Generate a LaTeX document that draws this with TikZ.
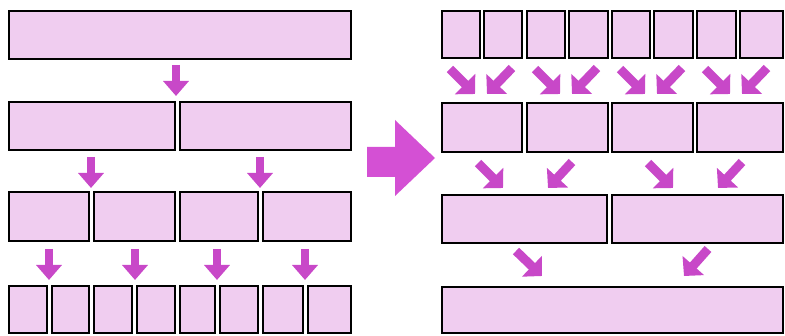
\documentclass[tikz,border=0pt]{standalone}
\usetikzlibrary{arrows.meta,fit}
\definecolor{cellfill}{RGB}{240,205,240}
\definecolor{arrowc}{RGB}{200,72,200}
\definecolor{bigarrowc}{RGB}{212,80,212}
\tikzset{
  cell/.style={draw=black, line width=2pt, fill=cellfill, inner sep=0pt, outer sep=0pt},
  arr/.style={draw=arrowc, line width=8.5pt, -{Triangle[width=25pt,length=15pt]}},
  darr/.style={draw=arrowc, line width=9pt, -{Triangle[width=28pt,length=14pt]}},
}
\newcommand\cellbox[5]{\node[cell, fit={(#2,#3) (#4,#5)}] (#1) {};}
\begin{document}
\begin{tikzpicture}[x=1pt,y=-1pt]
\useasboundingbox (0,0) rectangle (785,336);
% left side
\cellbox{L1}{9}{11}{351}{59}
\cellbox{L2a}{9}{102}{175}{150}
\cellbox{L2b}{180}{102}{351}{150}
\cellbox{L3a}{9}{192}{89}{241}
\cellbox{L3b}{94}{192}{175}{241}
\cellbox{L3c}{180}{192}{258}{241}
\cellbox{L3d}{263}{192}{351}{241}
\cellbox{L4a}{9}{286}{47}{333}
\cellbox{L4b}{52}{286}{89}{333}
\cellbox{L4c}{94}{286}{132}{333}
\cellbox{L4d}{137}{286}{175}{333}
\cellbox{L4e}{180}{286}{215}{333}
\cellbox{L4f}{220}{286}{258}{333}
\cellbox{L4g}{263}{286}{303}{333}
\cellbox{L4h}{308}{286}{351}{333}
\draw[arr] (176,65) -- (176,96);
\draw[arr] (91,157) -- (91,188);
\draw[arr] (260,157) -- (260,188);
\draw[arr] (49,249) -- (49,280);
\draw[arr] (135,249) -- (135,280);
\draw[arr] (217,249) -- (217,280);
\draw[arr] (305,249) -- (305,280);
% big arrow
\fill[bigarrowc] (367,147) -- (395,147) -- (395,120) -- (435,158) -- (395,196) -- (395,177) -- (367,177) -- cycle;
% right side
\cellbox{R1a}{442}{11}{480}{58}
\cellbox{R1b}{484}{11}{522}{58}
\cellbox{R1c}{527}{11}{565}{58}
\cellbox{R1d}{569}{11}{608}{58}
\cellbox{R1e}{612}{11}{650}{58}
\cellbox{R1f}{654}{11}{693}{58}
\cellbox{R1g}{697}{11}{736}{58}
\cellbox{R1h}{740}{11}{783}{58}
\cellbox{R2a}{442}{103}{522}{152}
\cellbox{R2b}{527}{103}{608}{152}
\cellbox{R2c}{612}{103}{693}{152}
\cellbox{R2d}{697}{103}{783}{152}
\cellbox{R3a}{442}{195}{607}{243}
\cellbox{R3b}{612}{195}{783}{243}
\cellbox{R4}{442}{287}{783}{333}
\foreach \x in {442,527,612,697}{
  \draw[darr] (\x+8,69) -- (\x+33,94);
  \draw[darr] (\x+70,68) -- (\x+45,94);
}
\foreach \x in {0,170}{
  \draw[darr] (\x+478,163) -- (\x+503,188);
  \draw[darr] (\x+572,162) -- (\x+548,188);
}
\draw[darr] (516,251) -- (542,276);
\draw[darr] (708,249) -- (684,276);
\end{tikzpicture}
\end{document}
